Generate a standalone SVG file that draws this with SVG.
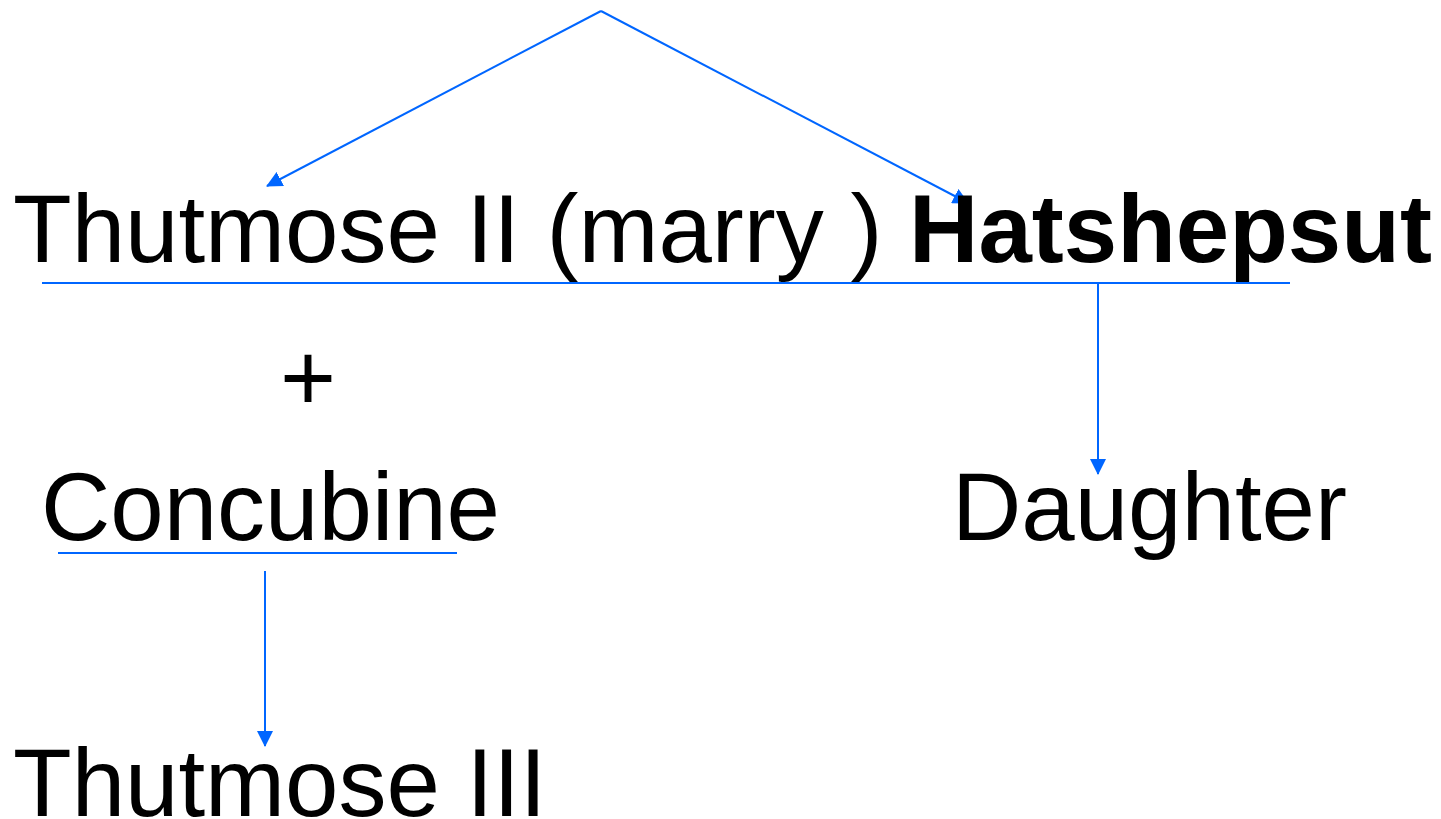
<svg xmlns="http://www.w3.org/2000/svg" width="1441" height="819" viewBox="0 0 1441 819">
<defs>
<style>
.t{font-family:"Liberation Sans",Arial,sans-serif;font-size:96px;fill:#000}
.b{font-weight:bold}
.c{stroke:#0066FF;stroke-width:2;fill:none}
</style>
<marker id="ah" markerUnits="userSpaceOnUse" markerWidth="16" markerHeight="16" viewBox="0 0 16 16" refX="15" refY="8" orient="auto">
<path d="M0,0 L16,8 L0,16 Z" fill="#0066FF"/>
</marker>
</defs>
<rect width="1441" height="819" fill="#FFFFFF"/>
<g id="connectors">
<line class="c" x1="601" y1="11" x2="267" y2="186" marker-end="url(#ah)"/>
<line class="c" x1="601" y1="11" x2="968" y2="203" marker-end="url(#ah)"/>
<line class="c" x1="42" y1="283" x2="1290" y2="283"/>
<line class="c" x1="1098" y1="283" x2="1098" y2="474" marker-end="url(#ah)"/>
<line class="c" x1="58" y1="553" x2="457" y2="553"/>
<line class="c" x1="265" y1="571" x2="265" y2="746" marker-end="url(#ah)"/>
</g>
<g id="parents">
<text class="t" x="13" y="262">Thutmose II (marry ) <tspan class="b">Hatshepsut</tspan></text>
</g>
<g id="plus">
<text class="t" x="308" y="411" text-anchor="middle">+</text>
</g>
<g id="concubine">
<text class="t" x="41" y="540">Concubine</text>
</g>
<g id="daughter">
<text class="t" x="952" y="540">Daughter</text>
</g>
<g id="thutmose3">
<text class="t" x="13" y="816">Thutmose III</text>
</g>
</svg>
